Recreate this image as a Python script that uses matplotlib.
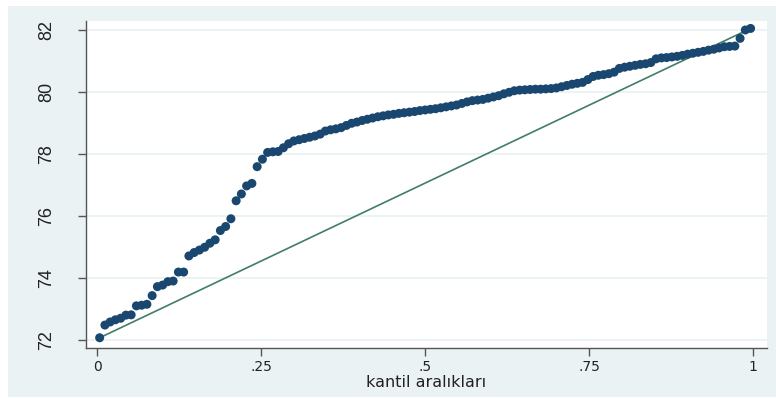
import matplotlib.pyplot as plt
from matplotlib.patches import Rectangle
import numpy as np

# sorted values (quantiles)
kantil_degerleri = [
    72.07, 72.48, 72.58, 72.65, 72.70, 72.80, 72.81, 73.10, 73.12, 73.15,
    73.43, 73.72, 73.77, 73.88, 73.90, 74.19, 74.19, 74.71, 74.82, 74.90,
    74.99, 75.12, 75.23, 75.53, 75.66, 75.91, 76.49, 76.71, 76.97, 77.05,
    77.59, 77.83, 78.05, 78.07, 78.08, 78.20, 78.33, 78.42, 78.46, 78.50,
    78.54, 78.58, 78.64, 78.74, 78.78, 78.81, 78.85, 78.92, 78.99, 79.03,
    79.08, 79.12, 79.16, 79.20, 79.23, 79.26, 79.28, 79.31, 79.33, 79.35,
    79.37, 79.40, 79.42, 79.44, 79.46, 79.49, 79.52, 79.55, 79.58, 79.63,
    79.68, 79.72, 79.74, 79.76, 79.80, 79.84, 79.88, 79.94, 79.99, 80.04,
    80.06, 80.07, 80.08, 80.09, 80.09, 80.10, 80.11, 80.13, 80.17, 80.21,
    80.25, 80.28, 80.31, 80.40, 80.50, 80.54, 80.56, 80.59, 80.64, 80.76,
    80.80, 80.83, 80.86, 80.89, 80.91, 80.95, 81.07, 81.10, 81.11, 81.13,
    81.15, 81.18, 81.22, 81.25, 81.28, 81.31, 81.35, 81.38, 81.42, 81.46,
    81.47, 81.48, 81.73, 82.00, 82.05,
]

x_ticks = [0, 0.25, 0.5, 0.75, 1]
x_tick_labels = ["0", ".25", ".5", ".75", "1"]
y_ticks = [72, 74, 76, 78, 80, 82]

n = len(kantil_degerleri)
y = np.array(kantil_degerleri)
x = (np.arange(1, n + 1) - 0.5) / n  # quantile positions

bg = "#eaf2f3"
navy = "#1a476f"
line_col = "#3f7f65"

plt.rcParams["font.family"] = ["DejaVu Sans"]

fig = plt.figure(figsize=(7.76, 3.98), dpi=100)
fig.patch.set_facecolor("white")
fig.patches.append(Rectangle((8 / 776, 1 / 398), 1 - 8 / 776, 391 / 398,
                             transform=fig.transFigure, facecolor=bg,
                             edgecolor="none", zorder=-5))

ax = fig.add_axes([86 / 776, 50 / 398, 681 / 776, 327 / 398])
ax.set_facecolor("white")

for t in y_ticks:
    ax.axhline(t, color=bg, lw=1.3, zorder=1)

# reference line: uniform distribution between min and max
ax.plot([x[0], x[-1]], [y.min(), y.max()], color=line_col, lw=1.2, zorder=2)
ax.scatter(x, y, s=42, color=navy, edgecolors="none", zorder=3)

ax.set_xlim(-0.0168, 1.021)
ax.set_ylim(71.74, 82.29)

ax.set_xticks(x_ticks)
ax.set_xticklabels(x_tick_labels)
ax.set_yticks(y_ticks)
ax.set_yticklabels([str(t) for t in y_ticks], rotation=90, va="center",
                   family="Liberation Sans")

for s in ["top", "right"]:
    ax.spines[s].set_visible(False)
for s in ["left", "bottom"]:
    ax.spines[s].set_color("#555555")
    ax.spines[s].set_linewidth(1.0)

ax.tick_params(axis="x", length=6, width=1, color="#555555", labelsize=10,
               labelcolor="#222222", pad=2.5)
ax.tick_params(axis="y", length=6, width=1, color="#555555", labelsize=13,
               labelcolor="#222222", pad=16)

ax.set_xlabel("kantil aralıkları", fontsize=11.5, color="#222222", va="baseline")
ax.xaxis.set_label_coords(0.5, -0.12)

fig.savefig("out.png", dpi=100, facecolor=fig.get_facecolor())
